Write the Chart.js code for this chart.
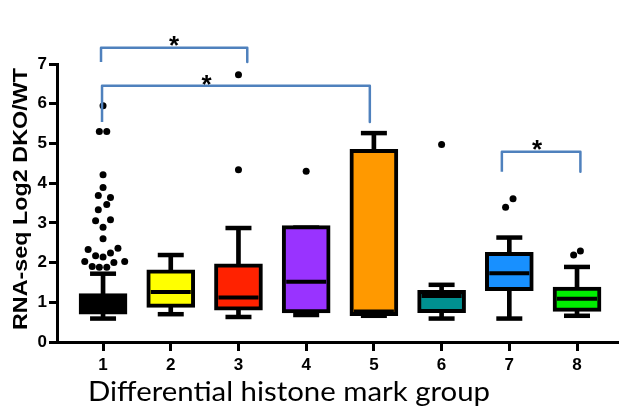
<!DOCTYPE html>
<html lang="en">
<head>
<meta charset="UTF-8">
<title>Boxplot</title>
<script src="https://cdn.jsdelivr.net/npm/chart.js"></script>
<style>
  body { margin: 0; background: #fff; }
  canvas { display: block; }
</style>
</head>
<body>
<canvas id="graficoBox" width="619" height="416"></canvas>
<script>
// dados
const grupos = ['1', '2', '3', '4', '5', '6', '7', '8'];
const cores = ['#000000', '#FFFF00', '#FF2200', '#9933FF', '#FF9900', '#009090', '#1890FF', '#00EE00'];
const minimos = [0.59, 0.70, 0.63, 0.68, 0.66, 0.59, 0.59, 0.66];
const quartil1 = [0.70, 0.87, 0.80, 0.73, 0.66, 0.74, 1.29, 0.77];
const medianas = [0.95, 1.26, 1.12, 1.52, 0.77, 1.16, 1.73, 1.09];
const quartil3 = [1.22, 1.82, 1.97, 2.93, 4.85, 1.30, 2.26, 1.38];
const maximos = [1.72, 2.19, 2.87, 2.88, 5.26, 1.44, 2.63, 1.89];

const outlierGrupo = [1, 1, 1, 1, 1, 1, 1, 1, 1, 1, 1, 1, 1, 1, 1, 1, 1, 1, 1, 1, 1, 1, 1, 1, 3, 3, 4, 6, 7, 7, 8, 8];
const outlierValor = [5.95, 5.30, 5.30, 4.21, 3.89, 3.69, 3.64, 3.46, 3.33, 3.08, 3.05, 2.89, 2.60, 2.33, 2.36, 2.17, 2.14, 2.24, 2.03, 2.03, 2.00, 1.90, 1.88, 1.88, 4.34, 6.73, 4.30, 4.97, 3.39, 3.61, 2.19, 2.29];
const outlierDesvio = [0, -0.055, 0.055, 0, 0, -0.07, 0.11, 0.055, -0.07, 0.11, -0.11, 0, 0, -0.22, 0.22, -0.11, 0, 0.11, -0.27, 0.32, 0.16, -0.16, -0.055, 0.055, 0, 0, 0, 0, -0.055, 0.055, -0.05, 0.05];

// colchetes de significancia: [x1, x2, topo, base]
const colchetes = [
  [0.97, 3.13, 7.41, 7.05],
  [0.985, 4.94, 6.45, 5.54],
  [6.89, 8.05, 4.79, 4.29]
];
const asteriscoX = [2.05, 2.53, 7.41];
const asteriscoY = [7.59, 6.60, 4.96];

const tituloY = 'RNA-seq Log2 DKO/WT';
const tituloX = 'Differential histone mark group';

var datasets = [];

datasets.push({
  type: 'bar',
  data: grupos.map(function (g, i) { return { x: i + 1, y: [minimos[i], maximos[i]] }; }),
  backgroundColor: '#000',
  barThickness: 4,
  grouped: false,
  order: 5
});

datasets.push({
  type: 'scatter',
  data: grupos.map(function (g, i) { return { x: i + 1, y: minimos[i] }; })
    .concat(grupos.map(function (g, i) { return { x: i + 1, y: maximos[i] }; })),
  pointStyle: 'line',
  pointRadius: 13,
  borderWidth: 4.5,
  borderColor: '#000',
  order: 4
});

datasets.push({
  type: 'bar',
  data: grupos.map(function (g, i) { return { x: i + 1, y: [quartil1[i], quartil3[i]] }; }),
  backgroundColor: cores,
  borderColor: '#000',
  borderWidth: 4,
  borderSkipped: false,
  barThickness: 48,
  grouped: false,
  order: 3
});

datasets.push({
  type: 'scatter',
  data: grupos.map(function (g, i) { return { x: i + 1, y: medianas[i] }; }),
  pointStyle: 'line',
  pointRadius: 20,
  borderWidth: 4,
  borderColor: '#000',
  order: 2
});

datasets.push({
  type: 'scatter',
  data: outlierValor.map(function (v, i) { return { x: outlierGrupo[i] + outlierDesvio[i], y: v }; }),
  pointRadius: 3.5,
  backgroundColor: '#000',
  borderWidth: 0,
  clip: false,
  order: 1
});

for (var c = 0; c < colchetes.length; c++) {
  var b = colchetes[c];
  datasets.push({
    type: 'line',
    data: [{ x: b[0], y: b[3] }, { x: b[0], y: b[2] }, { x: b[1], y: b[2] }, { x: b[1], y: b[3] }],
    borderColor: '#4F81BD',
    borderWidth: 2.5,
    borderJoinStyle: 'round',
    pointRadius: 0,
    fill: false,
    clip: false,
    order: 0
  });
}

const textos = {
  id: 'textos',
  afterDraw: function (chart) {
    const ctx = chart.ctx;
    const x = chart.scales.x;
    const y = chart.scales.y;
    ctx.save();
    ctx.fillStyle = '#000';
    ctx.textAlign = 'center';
    ctx.font = 'bold 26px "Liberation Sans"';
    for (var i = 0; i < asteriscoX.length; i++) {
      var m = ctx.measureText('*');
      var meio = (m.actualBoundingBoxAscent - m.actualBoundingBoxDescent) / 2;
      ctx.fillText('*', x.getPixelForValue(asteriscoX[i]), y.getPixelForValue(asteriscoY[i]) + meio);
    }
    ctx.restore();

    ctx.save();
    ctx.fillStyle = '#000';
    ctx.translate(21, 199);
    ctx.rotate(-Math.PI / 2);
    ctx.font = 'bold 21px "Liberation Sans"';
    ctx.textAlign = 'center';
    ctx.textBaseline = 'middle';
    var w = ctx.measureText(tituloY).width;
    ctx.scale(262 / w, 1);
    ctx.fillText(tituloY, 0, 0);
    ctx.restore();

    ctx.save();
    ctx.fillStyle = '#000';
    ctx.translate(289, 401);
    ctx.font = '27px Lato';
    ctx.textAlign = 'center';
    var w2 = ctx.measureText(tituloX).width;
    ctx.scale(402 / w2, 1);
    ctx.fillText(tituloX, 0, 0);
    ctx.restore();
  }
};

new Chart(document.getElementById('graficoBox'), {
  type: 'bar',
  data: { datasets: datasets },
  options: {
    responsive: false,
    animation: false,
    layout: { autoPadding: false, padding: { top: 64, right: 0, left: 0, bottom: 0 } },
    plugins: {
      legend: { display: false },
      tooltip: { enabled: false }
    },
    scales: {
      x: {
        type: 'linear',
        offset: false,
        min: 0.32,
        max: 8.62,
        afterFit: function (s) { s.height = 74; s.paddingLeft = 0; s.paddingRight = 0; },
        afterBuildTicks: function (s) {
          s.ticks = grupos.map(function (g, i) { return { value: i + 1 }; });
        },
        ticks: {
          color: '#000',
          padding: 4,
          font: { family: '"Liberation Sans"', weight: 'bold', size: 17 },
          callback: function (v) { return grupos[v - 1]; }
        },
        grid: { offset: false, drawOnChartArea: false, tickLength: 9, lineWidth: 3, color: '#000' },
        border: { width: 3, color: '#000' }
      },
      y: {
        min: 0,
        max: 7,
        afterFit: function (s) { s.width = 57; s.paddingTop = 0; s.paddingBottom = 0; },
        ticks: {
          stepSize: 1,
          color: '#000',
          padding: 2,
          font: { family: '"Liberation Sans"', weight: 'bold', size: 17 }
        },
        grid: { drawOnChartArea: false, tickLength: 8, lineWidth: 3, color: '#000' },
        border: { width: 3, color: '#000' }
      }
    }
  },
  plugins: [textos]
});
</script>
</body>
</html>
